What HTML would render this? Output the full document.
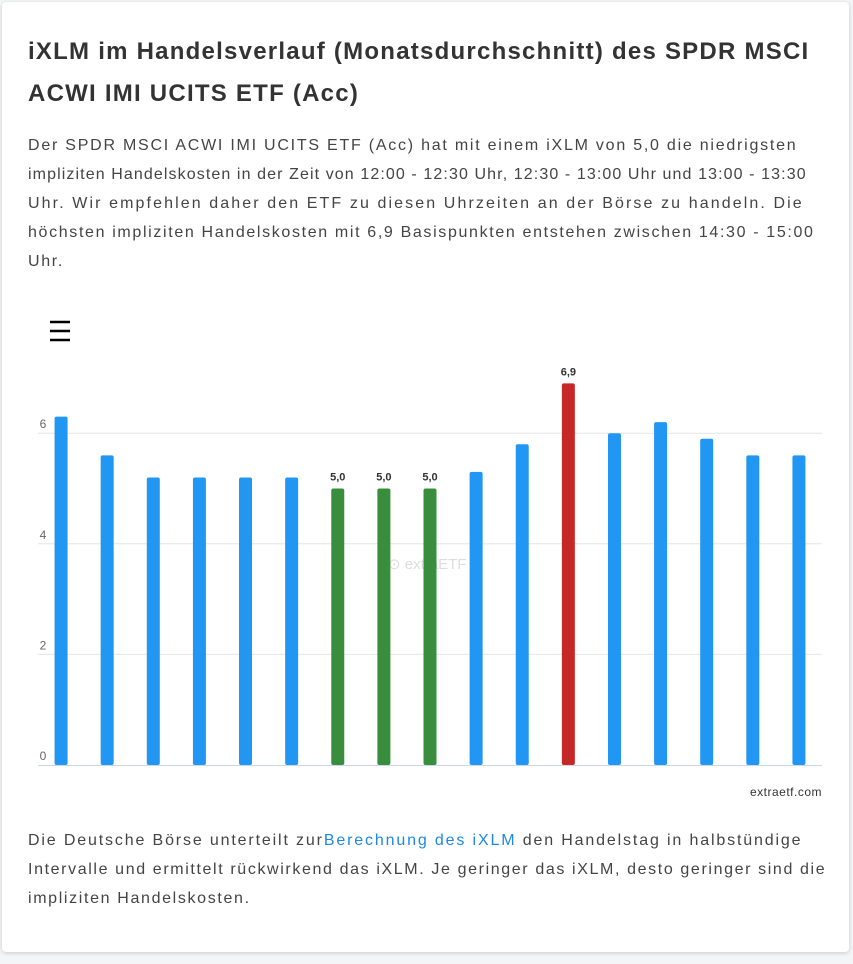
<!DOCTYPE html>
<html><head><meta charset="utf-8">
<style>
body{margin:0;width:853px;height:964px;background:#f3f5f7;font-family:"Liberation Sans",sans-serif;overflow:hidden}
.card{position:absolute;left:2px;top:2px;width:847px;height:950px;background:#fff;border-radius:4px;box-shadow:0 1px 4px rgba(0,0,0,.18)}
.t{position:absolute;left:26px;white-space:nowrap;color:#333}
h1{margin:0;font-size:24px;font-weight:bold;letter-spacing:1.24px}
.p{font-size:16px;color:#444;letter-spacing:1.65px}
a{color:#1e88e5;text-decoration:none}
</style></head><body>
<div class="card">
<div class="t" style="top:36px"><h1>iXLM im Handelsverlauf (Monatsdurchschnitt) des SPDR MSCI</h1></div>
<div class="t" style="top:78px"><h1>ACWI IMI UCITS ETF (Acc)</h1></div>
<div>
<div class="t p" style="top:135px;letter-spacing:1.76px">Der SPDR MSCI ACWI IMI UCITS ETF (Acc) hat mit einem iXLM von 5,0 die niedrigsten</div>
<div class="t p" style="top:164px;letter-spacing:1.1px">impliziten Handelskosten in der Zeit von 12:00 - 12:30 Uhr, 12:30 - 13:00 Uhr und 13:00 - 13:30</div>
<div class="t p" style="top:193px;letter-spacing:2.1px">Uhr. Wir empfehlen daher den ETF zu diesen Uhrzeiten an der Börse zu handeln. Die</div>
<div class="t p" style="top:222px">höchsten impliziten Handelskosten mit 6,9 Basispunkten entstehen zwischen 14:30 - 15:00</div>
<div class="t p" style="top:251px">Uhr.</div>
</div>
<div>
<div class="t p" style="top:830px;letter-spacing:1.85px">Die Deutsche Börse unterteilt zur<a href="#">Berechnung des iXLM</a> den Handelstag in halbstündige</div>
<div class="t p" style="top:859px;letter-spacing:1.62px">Intervalle und ermittelt rückwirkend das iXLM. Je geringer das iXLM, desto geringer sind die</div>
<div class="t p" style="top:888px">impliziten Handelskosten.</div>
</div>
</div>
<svg id="chart" style="position:absolute;left:0;top:0" width="853" height="964">
<g stroke="#000" stroke-width="2.5">
<line x1="50" y1="322" x2="70" y2="322"/><line x1="50" y1="331" x2="70" y2="331"/><line x1="50" y1="340" x2="70" y2="340"/>
</g>
<text x="388" y="569" font-size="15" fill="#ddd">⊙ extraETF</text>
<text x="822" y="796" font-size="12" fill="#333" text-anchor="end" letter-spacing="0.5">extraetf.com</text>
</svg>
<script>
const categories=["09:00","09:30","10:00","10:30","11:00","11:30","12:00","12:30","13:00","13:30","14:00","14:30","15:00","15:30","16:00","16:30","17:00"];
const values=[6.3,5.6,5.2,5.2,5.2,5.2,5.0,5.0,5.0,5.3,5.8,6.9,6.0,6.2,5.9,5.6,5.6];
const yTicks=[0,2,4,6];
const svg=document.getElementById('chart');
const NS='http://www.w3.org/2000/svg';
const x0=38,x1=822,y0=765,k=55.3;
const y=v=>y0-v*k;
const step=(x1-x0)/categories.length;
const xc=i=>x0+step*(i+0.5);
const minV=Math.min(...values),maxV=Math.max(...values);
function mk(t,a){const e=document.createElementNS(NS,t);for(const n in a)e.setAttribute(n,a[n]);svg.appendChild(e);return e;}
yTicks.forEach(t=>{
 if(t>0){const g=mk('line',{x1:x0,x2:x1,y1:y(t),y2:y(t),stroke:'#e6e6e6'});
 
 }
 const l=mk('text',{x:43,y:y(t)-5,'font-size':12,fill:'#666','text-anchor':'middle'});
 l.textContent=t;
 
 
});
const ax=mk('line',{x1:x0,x2:x1,y1:y0+0.5,y2:y0+0.5,stroke:'#ccd6eb'});


values.forEach((v,i)=>{
 const c=v===maxV?'#c62828':(v===minV?'#388e3c':'#2196f3');
 const b=mk('rect',{x:xc(i)-6.5,y:y(v),width:13,height:v*k,rx:2,fill:c});
 
 
 if(v===maxV||v===minV){
  const t=mk('text',{x:xc(i),y:y(v)-8,'font-size':11,'font-weight':'bold',fill:'#333','text-anchor':'middle'});
  t.textContent=v.toFixed(1).replace('.',',');
  
  
 }
});
</script>
</body></html>
